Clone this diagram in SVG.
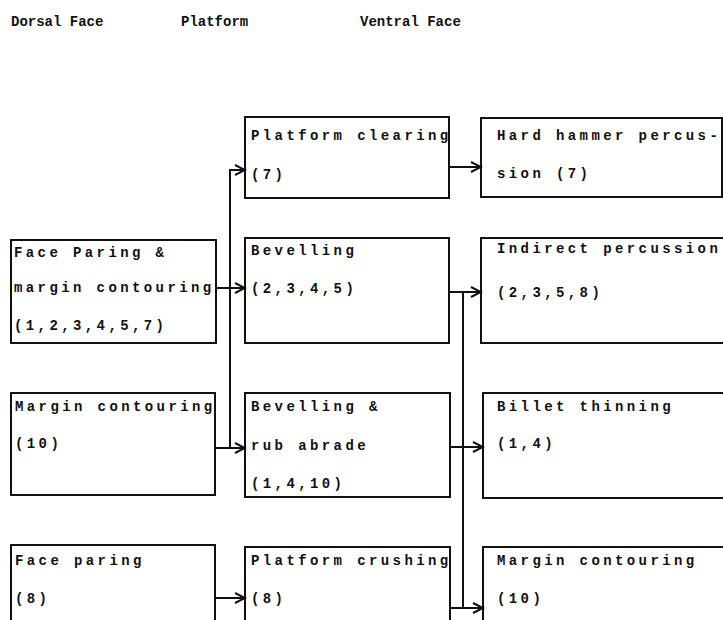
<svg xmlns="http://www.w3.org/2000/svg" width="723" height="620" viewBox="0 0 723 620">
<style>
  .hd { font-family: "Liberation Mono", "DejaVu Sans Mono", monospace; font-size: 14px; font-weight: bold; fill: #111; }
  .t { font-family: "Liberation Mono", "DejaVu Sans Mono", monospace; font-size: 14px; font-weight: bold; letter-spacing: 3.4px; fill: #111; }
  .box { fill: none; stroke: #111; stroke-width: 2; }
  .ln { fill: none; stroke: #111; stroke-width: 2; }
  .ar { fill: none; stroke: #111; stroke-width: 2; marker-end: url(#arr); }
</style>
<defs>
  <marker id="arr" markerUnits="userSpaceOnUse" markerWidth="14" markerHeight="14" refX="12" refY="6" orient="auto" viewBox="0 0 14 12">
    <path d="M2,1 L12,6 L2,11" fill="none" stroke="#111" stroke-width="2"/>
  </marker>
</defs>
<rect width="723" height="620" fill="#fff"/>

<g id="headers">
  <text class="hd" x="11" y="26">Dorsal Face</text>
  <text class="hd" x="181" y="26">Platform</text>
  <text class="hd" x="360" y="26">Ventral Face</text>
</g>

<g id="connectors">
  <path class="ar" d="M216,288 L245,288"/>
  <path class="ar" d="M215,448 L245,448"/>
  <path class="ar" d="M230,448 L230,170 L245,170"/>
  <path class="ar" d="M215,598 L245,598"/>
  <path class="ar" d="M449,167 L481,167"/>
  <path class="ar" d="M449,292 L481,292"/>
  <path class="ar" d="M450,447 L483,447"/>
  <path class="ar" d="M450,608 L483,608"/>
  <path class="ln" d="M463,292 L463,608"/>
</g>

<g id="dorsal-face-paring-margin">
  <rect class="box" x="11" y="240" width="205" height="103"/>
  <text class="t" x="14" y="257">Face Paring &amp;</text>
  <text class="t" x="14" y="292">margin contouring</text>
  <text class="t" x="14" y="330">(1,2,3,4,5,7)</text>
</g>
<g id="dorsal-margin-contouring">
  <rect class="box" x="11" y="393" width="204" height="102"/>
  <text class="t" x="15" y="411">Margin contouring</text>
  <text class="t" x="15" y="448">(10)</text>
</g>
<g id="dorsal-face-paring">
  <rect class="box" x="11" y="545" width="204" height="100"/>
  <text class="t" x="15" y="565">Face paring</text>
  <text class="t" x="15" y="603">(8)</text>
</g>

<g id="platform-clearing">
  <rect class="box" x="245" y="117" width="204" height="81"/>
  <text class="t" x="251" y="140">Platform clearing</text>
  <text class="t" x="251" y="179">(7)</text>
</g>
<g id="platform-bevelling">
  <rect class="box" x="245" y="238" width="204" height="105"/>
  <text class="t" x="251" y="255">Bevelling</text>
  <text class="t" x="251" y="293">(2,3,4,5)</text>
</g>
<g id="platform-bevelling-rub">
  <rect class="box" x="245" y="393" width="205" height="104"/>
  <text class="t" x="251" y="411">Bevelling &amp;</text>
  <text class="t" x="251" y="450">rub abrade</text>
  <text class="t" x="251" y="488">(1,4,10)</text>
</g>
<g id="platform-crushing">
  <rect class="box" x="245" y="547" width="205" height="100"/>
  <text class="t" x="251" y="565">Platform crushing</text>
  <text class="t" x="251" y="603">(8)</text>
</g>

<g id="ventral-hard-hammer">
  <rect class="box" x="481" y="118" width="241" height="79"/>
  <text class="t" x="497" y="140">Hard hammer percus-</text>
  <text class="t" x="497" y="178">sion (7)</text>
</g>
<g id="ventral-indirect">
  <rect class="box" x="481" y="238" width="260" height="105"/>
  <text class="t" x="497" y="253">Indirect percussion</text>
  <text class="t" x="497" y="297">(2,3,5,8)</text>
</g>
<g id="ventral-billet">
  <rect class="box" x="483" y="393" width="260" height="105"/>
  <text class="t" x="497" y="411">Billet thinning</text>
  <text class="t" x="497" y="448">(1,4)</text>
</g>
<g id="ventral-margin">
  <rect class="box" x="483" y="547" width="260" height="100"/>
  <text class="t" x="497" y="565">Margin contouring</text>
  <text class="t" x="497" y="603">(10)</text>
</g>
</svg>
